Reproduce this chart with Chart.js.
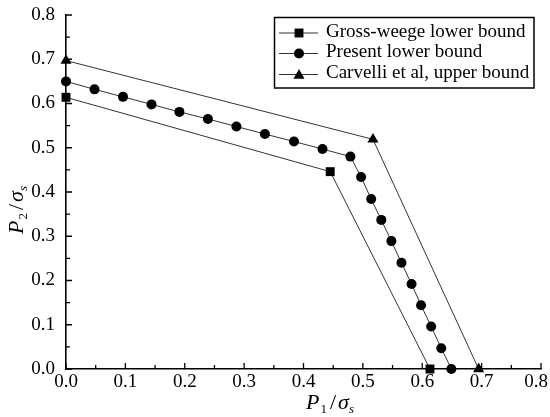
<!DOCTYPE html>
<html>
<head>
<meta charset="utf-8">
<script src="https://cdn.jsdelivr.net/npm/chart.js@4.4.1/dist/chart.umd.min.js"></script>
<style>
  html, body { margin: 0; padding: 0; background: #fff; }
  #wrap { width: 550px; height: 417px; }
</style>
</head>
<body>
<div id="wrap"><canvas id="c" width="550" height="417"></canvas></div>
<script>
// data (P1/σs , P2/σs)
const seriesNames = ['Gross-weege lower bound', 'Present lower bound', 'Carvelli et al, upper bound'];

const grossX = [0, 0.445, 0.613];
const grossY = [0.614, 0.446, 0];

const presentX = [0, 0.048, 0.096, 0.144, 0.191, 0.239, 0.287, 0.335, 0.384, 0.432, 0.479,
                  0.497, 0.514, 0.531, 0.548, 0.565, 0.582, 0.598, 0.615, 0.632, 0.649];
const presentY = [0.65, 0.632, 0.615, 0.598, 0.581, 0.565, 0.548, 0.531, 0.514, 0.497, 0.48,
                  0.434, 0.384, 0.337, 0.289, 0.24, 0.192, 0.144, 0.096, 0.047, 0];

const carvelliX = [0, 0.517, 0.695];
const carvelliY = [0.697, 0.519, 0];

const tickValues = [0, 0.1, 0.2, 0.3, 0.4, 0.5, 0.6, 0.7, 0.8];
const tickLabels = ['0.0', '0.1', '0.2', '0.3', '0.4', '0.5', '0.6', '0.7', '0.8'];

const FONT = '"Liberation Serif", "DejaVu Serif", serif';

const toPoints = (xs, ys) => xs.map((x, i) => ({ x: x, y: ys[i] }));

// inward ticks, x labels (last one kept inside the canvas), axis titles, boxed legend
const axisDeco = {
    id: 'axisDeco',
    beforeDatasetsDraw(chart) {
        const ctx = chart.ctx;
        const xs = chart.scales.x, ys = chart.scales.y;
        const a = chart.chartArea;
        ctx.save();
        ctx.strokeStyle = '#000';
        ctx.lineWidth = 1.3;
        ctx.beginPath();
        tickValues.forEach((v, i) => {
            const px = xs.getPixelForValue(v);
            const py = ys.getPixelForValue(v);
            ctx.moveTo(px, a.bottom); ctx.lineTo(px, a.bottom - 6);
            ctx.moveTo(a.left, py); ctx.lineTo(a.left + 6, py);
            if (i < tickValues.length - 1) {
                const mid = (v + tickValues[i + 1]) / 2;
                const mx = xs.getPixelForValue(mid);
                const my = ys.getPixelForValue(mid);
                ctx.moveTo(mx, a.bottom); ctx.lineTo(mx, a.bottom - 4);
                ctx.moveTo(a.left, my); ctx.lineTo(a.left + 4, my);
            }
        });
        ctx.stroke();

        ctx.fillStyle = '#000';
        ctx.font = '19px ' + FONT;
        ctx.textBaseline = 'top';
        ctx.textAlign = 'center';
        tickValues.forEach((v, i) => {
            const w = ctx.measureText(tickLabels[i]).width;
            let px = xs.getPixelForValue(v);
            px = Math.min(px, chart.width - 2 - w / 2);
            ctx.fillText(tickLabels[i], px, a.bottom + 4);
        });
        ctx.restore();
    },
    afterDraw(chart) {
        const ctx = chart.ctx;
        ctx.save();
        ctx.fillStyle = '#000';
        ctx.textBaseline = 'alphabetic';

        // writes P_n / σ_s starting at (0,0) in current transform
        const title = (sub) => {
            let x = 0;
            ctx.font = 'italic 22px ' + FONT;
            ctx.fillText('P', x, 0); x += ctx.measureText('P').width + 1;
            ctx.font = '13px ' + FONT;
            ctx.fillText(sub, x, 4); x += ctx.measureText(sub).width + 3;
            ctx.font = '22px ' + FONT;
            ctx.fillText('/', x, 0); x += ctx.measureText('/').width + 2;
            ctx.font = 'italic 22px ' + FONT;
            ctx.fillText('σ', x, 0); x += ctx.measureText('σ').width;
            ctx.font = 'italic 13px ' + FONT;
            ctx.fillText('s', x, 4);
        };

        ctx.save();
        ctx.translate(306, 409);
        title('1');
        ctx.restore();

        ctx.save();
        ctx.translate(23, 234);
        ctx.rotate(-Math.PI / 2);
        title('2');
        ctx.restore();

        // legend box
        const bx = 274.5, by = 17.5, bw = 259.5, bh = 70.5;
        ctx.fillStyle = '#fff';
        ctx.fillRect(bx, by, bw, bh);
        ctx.strokeStyle = '#000';
        ctx.lineWidth = 1.5;
        ctx.strokeRect(bx, by, bw, bh);

        const rows = [33, 53.5, 74.5];
        chart.data.datasets.forEach((ds, i) => {
            const ry = rows[i];
            ctx.strokeStyle = '#333';
            ctx.lineWidth = 1;
            ctx.beginPath();
            ctx.moveTo(279, ry); ctx.lineTo(318, ry);
            ctx.stroke();
            ctx.fillStyle = '#000';
            ctx.strokeStyle = '#000';
            Chart.helpers.drawPoint(ctx, {
                pointStyle: ds.pointStyle, radius: ds.pointRadius, rotation: 0, borderWidth: 0
            }, 299, i === 2 ? ry + 1 : ry);
            ctx.fillStyle = '#000';
            ctx.font = '19px ' + FONT;
            ctx.textBaseline = 'middle';
            ctx.fillText(ds.label, 326, ry - 1);
        });
        ctx.restore();
    }
};

const mkSet = (label, xs, ys, style, r) => ({
    label: label,
    data: toPoints(xs, ys),
    showLine: true,
    borderColor: '#333',
    borderWidth: 1,
    pointStyle: style,
    pointRadius: r,
    pointBackgroundColor: '#000',
    pointBorderColor: '#000',
    pointBorderWidth: 0,
    clip: false
});

new Chart(document.getElementById('c').getContext('2d'), {
    type: 'scatter',
    data: {
        datasets: [
            mkSet(seriesNames[0], grossX, grossY, 'rect', 6.3),
            mkSet(seriesNames[1], presentX, presentY, 'circle', 5),
            mkSet(seriesNames[2], carvelliX, carvelliY, 'triangle', 6.4)
        ]
    },
    options: {
        responsive: false,
        animation: false,
        events: [],
        layout: { padding: { top: 15, right: 9, left: 0, bottom: 0 } },
        plugins: { legend: { display: false }, tooltip: { enabled: false } },
        scales: {
            x: {
                type: 'linear', min: 0, max: 0.8,
                grid: { display: false },
                border: { display: true, color: '#000', width: 1.6 },
                ticks: { display: false, stepSize: 0.1 },
                afterFit(s) { s.height = 48; s.paddingLeft = 0; s.paddingRight = 0; }
            },
            y: {
                type: 'linear', min: 0, max: 0.8,
                grid: { display: false },
                border: { display: true, color: '#000', width: 1.6 },
                ticks: {
                    stepSize: 0.1, padding: 3, color: '#000',
                    font: { family: FONT, size: 19 },
                    callback: v => v.toFixed(1)
                },
                afterFit(s) { s.width = 66; s.paddingTop = 0; s.paddingBottom = 0; }
            }
        }
    },
    plugins: [axisDeco]
});
</script>
</body>
</html>
